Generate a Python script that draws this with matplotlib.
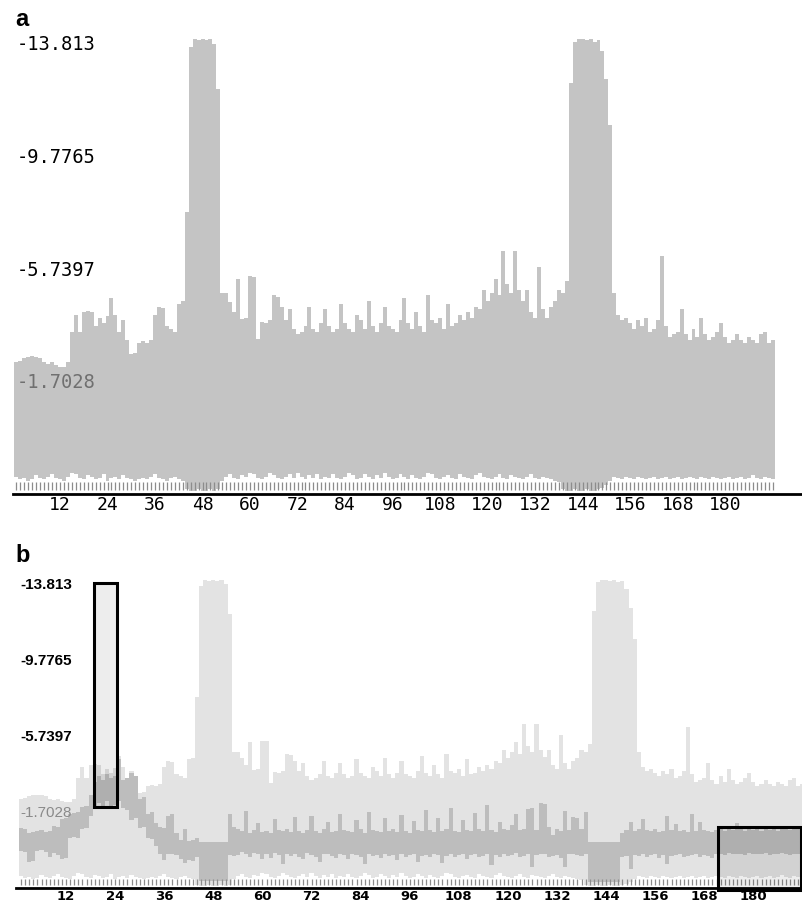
import numpy as np
import matplotlib.pyplot as plt
from matplotlib.patches import Rectangle

# residue positions along the sequence
positions = np.arange(1, 193)

# profile score (upper edge of each bar), panel a and light series of panel b
profile_top = [
    -2.40, -2.45, -2.55, -2.60, -2.62, -2.60, -2.55, -2.40, -2.35, -2.40,
    -2.30, -2.25, -2.25, -2.40, -3.50, -4.10, -3.50, -4.20, -4.25, -4.20,
    -3.70, -4.00, -3.80, -4.05, -4.70, -4.10, -3.50, -3.90, -3.20, -2.70,
    -2.75, -3.10, -3.15, -3.10, -3.20, -4.10, -4.40, -4.35, -3.70, -3.60,
    -3.50, -4.50, -4.60, -7.80, -13.70, -14.00, -13.95, -14.00, -13.95, -14.00,
    -13.80, -12.20, -4.90, -4.90, -4.55, -4.20, -5.40, -3.95, -4.00, -5.50,
    -5.45, -3.25, -3.85, -3.80, -3.90, -4.80, -4.75, -4.40, -3.90, -4.30,
    -3.60, -3.40, -3.50, -3.70, -4.40, -3.60, -3.50, -3.80, -4.30, -3.70,
    -3.50, -3.60, -4.50, -3.80, -3.60, -3.50, -4.10, -3.90, -3.60, -4.60,
    -3.70, -3.50, -3.80, -4.40, -3.70, -3.60, -3.50, -3.90, -4.70, -3.80,
    -3.60, -4.20, -3.70, -3.50, -4.80, -3.90, -3.80, -4.00, -3.60, -4.50,
    -3.70, -3.80, -4.10, -3.90, -4.20, -4.00, -4.40, -4.30, -5.00, -4.60,
    -4.90, -5.40, -4.80, -6.40, -5.20, -4.90, -6.40, -5.00, -4.60, -5.00,
    -4.20, -4.00, -5.80, -4.30, -4.00, -4.40, -4.60, -5.00, -4.90, -5.30,
    -12.40, -13.90, -14.00, -14.00, -13.95, -14.00, -13.90, -13.95, -13.55, -12.55,
    -10.90, -4.90, -4.10, -3.90, -4.00, -3.80, -3.60, -3.90, -3.70, -4.00,
    -3.50, -3.60, -3.90, -6.20, -3.70, -3.30, -3.40, -3.50, -4.30, -3.40,
    -3.20, -3.60, -3.30, -4.00, -3.40, -3.20, -3.30, -3.50, -3.80, -3.30,
    -3.10, -3.20, -3.40, -3.20, -3.10, -3.30, -3.20, -3.10, -3.40, -3.50,
    -3.10, -3.20,
]

# lower edge of each bar
profile_bottom = [
    1.70, 1.80, 1.75, 1.85, 1.80, 1.65, 1.75, 1.80, 1.70, 1.60,
    1.75, 1.80, 1.85, 1.70, 1.55, 1.60, 1.75, 1.80, 1.65, 1.70,
    1.80, 1.75, 1.60, 1.85, 1.75, 1.70, 1.80, 1.65, 1.75, 1.80,
    1.85, 1.80, 1.75, 1.80, 1.70, 1.60, 1.75, 1.80, 1.85, 1.75,
    1.70, 1.80, 1.85, 2.15, 2.20, 2.20, 2.15, 2.20, 2.20, 2.15,
    2.20, 2.15, 1.85, 1.70, 1.60, 1.75, 1.80, 1.65, 1.70, 1.55,
    1.60, 1.75, 1.80, 1.70, 1.55, 1.65, 1.75, 1.80, 1.70, 1.60,
    1.75, 1.55, 1.70, 1.80, 1.65, 1.75, 1.60, 1.80, 1.70, 1.75,
    1.60, 1.75, 1.80, 1.70, 1.55, 1.65, 1.80, 1.75, 1.60, 1.70,
    1.80, 1.65, 1.75, 1.55, 1.70, 1.80, 1.75, 1.60, 1.70, 1.80,
    1.65, 1.75, 1.80, 1.70, 1.55, 1.60, 1.75, 1.80, 1.70, 1.65,
    1.75, 1.80, 1.60, 1.70, 1.75, 1.80, 1.65, 1.55, 1.70, 1.75,
    1.80, 1.70, 1.60, 1.75, 1.80, 1.65, 1.70, 1.75, 1.80, 1.70,
    1.60, 1.75, 1.80, 1.70, 1.75, 1.80, 1.85, 1.90, 2.15, 2.20,
    2.20, 2.15, 2.20, 2.20, 2.15, 2.20, 2.20, 2.15, 2.10, 2.00,
    1.85, 1.70, 1.75, 1.80, 1.70, 1.75, 1.80, 1.70, 1.75, 1.80,
    1.75, 1.70, 1.80, 1.75, 1.70, 1.80, 1.75, 1.70, 1.80, 1.75,
    1.70, 1.75, 1.80, 1.70, 1.75, 1.80, 1.70, 1.75, 1.80, 1.75,
    1.70, 1.80, 1.75, 1.70, 1.80, 1.75, 1.65, 1.75, 1.80, 1.70,
    1.75, 1.80,
]

# second (darker) profile in panel b
window_top = [
    -0.85, -0.80, -0.60, -0.65, -0.70, -0.75, -0.65, -0.70, -0.95, -0.90,
    -1.35, -1.40, -1.60, -1.65, -1.70, -1.95, -2.00, -2.60, -3.30, -3.60,
    -3.40, -3.70, -3.50, -3.60, -4.50, -3.40, -3.50, -3.80, -3.60, -2.40,
    -2.50, -1.60, -1.70, -1.10, -0.90, -0.85, -1.50, -1.60, -0.60, -0.20,
    -0.80, -0.15, -0.20, -0.30, -0.10, -0.10, -0.10, -0.10, -0.10, -0.10,
    -0.10, -1.60, -0.90, -0.80, -0.70, -1.75, -0.60, -0.75, -1.10, -0.65,
    -0.70, -0.60, -1.35, -0.75, -0.70, -0.80, -0.65, -1.45, -0.70, -0.60,
    -0.75, -1.50, -0.70, -0.60, -0.80, -1.20, -0.65, -0.70, -1.60, -0.75,
    -0.70, -0.65, -1.30, -0.80, -0.60, -1.70, -0.75, -0.70, -0.65, -1.40,
    -0.70, -0.80, -0.65, -1.55, -0.70, -0.60, -1.25, -0.75, -0.70, -1.80,
    -0.75, -0.65, -1.40, -0.70, -0.80, -1.90, -0.70, -0.65, -1.30, -0.75,
    -0.70, -1.65, -0.80, -0.70, -2.10, -0.75, -0.65, -1.20, -0.80, -0.75,
    -1.00, -1.60, -0.75, -0.80, -1.85, -1.90, -0.75, -2.20, -2.15, -0.90,
    -0.50, -0.80, -0.70, -1.75, -0.75, -1.45, -1.40, -0.80, -1.70, -0.10,
    -0.10, -0.10, -0.10, -0.10, -0.10, -0.10, -0.10, -0.60, -0.75, -1.15,
    -0.70, -0.80, -1.35, -0.75, -0.70, -0.80, -0.65, -0.70, -1.50, -0.75,
    -1.05, -0.70, -0.75, -0.65, -1.60, -0.70, -1.20, -0.75, -0.70, -0.65,
    -0.75, -0.80, -0.70, -0.85, -0.75, -1.10, -0.80, -0.70, -0.85, -0.75,
    -0.80, -0.70, -0.90, -0.75, -0.80, -0.70, -0.85, -0.80, -0.75, -0.85,
    -0.80, -0.75,
]

window_bottom = [
    0.35, 0.40, 0.95, 0.90, 0.35, 0.30, 0.40, 0.70, 0.45, 0.60,
    0.80, 0.75, -0.35, -0.40, -0.30, -0.80, -0.85, -1.50, -1.90, -2.20,
    -2.00, -2.30, -1.90, -2.10, -2.30, -1.90, -1.80, -1.30, -1.40, -0.85,
    -0.90, -0.30, -0.25, 0.10, 0.50, 0.85, 0.50, 0.55, 0.60, 0.80,
    1.00, 0.85, 0.90, 0.70, 1.95, 1.95, 1.95, 1.95, 1.95, 1.95,
    1.95, 0.60, 0.65, 0.60, 0.40, 0.50, 0.70, 0.45, 0.55, 0.80,
    0.55, 0.75, 0.45, 0.60, 1.05, 0.50, 0.65, 0.55, 0.70, 0.80,
    0.45, 0.60, 0.70, 0.95, 0.55, 0.50, 0.65, 0.75, 0.55, 0.60,
    0.80, 0.55, 0.60, 0.70, 1.05, 0.50, 0.65, 0.60, 0.75, 0.55,
    0.65, 0.60, 0.85, 0.50, 0.70, 0.60, 0.55, 0.95, 0.65, 0.60,
    0.70, 0.55, 0.60, 1.00, 0.65, 0.50, 0.70, 0.60, 0.55, 0.80,
    0.60, 0.55, 0.70, 0.65, 0.50, 1.10, 0.60, 0.70, 0.55, 0.65,
    0.60, 0.45, 0.70, 0.65, 0.55, 1.20, 0.60, 0.50, 0.55, 0.70,
    0.65, 0.60, 0.75, 1.20, 0.55, 0.50, 0.60, 0.65, 0.55, 2.00,
    2.00, 2.00, 2.00, 2.00, 2.00, 2.00, 2.00, 0.70, 0.65, 1.30,
    0.60, 0.65, 0.55, 0.70, 0.60, 0.55, 0.75, 0.60, 1.05, 0.65,
    0.60, 0.55, 0.70, 0.65, 0.60, 0.55, 0.70, 0.60, 0.65, 0.75,
    0.50, 0.55, 0.60, 0.45, 0.50, 0.55, 0.50, 0.60, 0.45, 0.50,
    0.55, 0.50, 0.45, 0.60, 0.50, 0.55, 0.45, 0.50, 0.60, 0.55,
    0.50, 0.55,
]

y_ticks = [-13.813, -9.7765, -5.7397, -1.7028]
y_tick_labels = ["-13.813", "-9.7765", "-5.7397", "-1.7028"]
x_ticks = list(range(12, 181, 12))

# highlighted windows in panel b: (start, end, upper score, lower score)
highlights = [(18.8, 24.4, -13.87, -1.97), (171.4, 191.7, -0.91, 2.45)]

top = np.array(profile_top)
bottom = np.array(profile_bottom)
wtop = np.array(window_top)
wbottom = np.array(window_bottom)

fig = plt.figure(figsize=(8.02, 9.03), dpi=100)
W, H = 802, 903

ax_a = fig.add_axes([13 / W, 1 - 495 / H, 789 / W, 465 / H])
ax_b = fig.add_axes([16 / W, 1 - 889 / H, 786 / W, 319 / H])

# panel a
ax_a.bar(positions, top - bottom, bottom=bottom, width=1.0,
         color="#c4c4c4", linewidth=0)
ax_a.set_xlim(0.13, 199.4)
ax_a.set_ylim(2.32, -14.35)

# panel b
ax_b.bar(positions, top - bottom, bottom=bottom, width=1.0,
         color="#e3e3e3", linewidth=0)
ax_b.bar(positions, wtop - wbottom, bottom=wbottom, width=1.0,
         color="#bdbdbd", linewidth=0)
for x0, x1, y0, y1 in highlights:
    ax_b.add_patch(Rectangle((x0, y0), x1 - x0, y1 - y0,
                             facecolor=(0, 0, 0, 0.07), edgecolor="black",
                             linewidth=2.2, clip_on=False, zorder=5))
ax_b.set_xlim(-0.24, 191.9)
ax_b.set_ylim(2.33, -14.61)

mono = ["DejaVu Sans Mono"]
narrow = ["Liberation Sans Narrow", "Liberation Sans"]

for ax, tick_lo, tick_hi in [(ax_a, 4 / 465, 12 / 465), (ax_b, 3 / 319, 9 / 319)]:
    for s in ["top", "left", "right"]:
        ax.spines[s].set_visible(False)
    ax.spines["bottom"].set_linewidth(2)
    ax.set_yticks([])
    ax.set_xticks(x_ticks)
    ax.tick_params(axis="x", length=0)
    # small per-residue tick marks above the axis line
    ax.vlines(positions, tick_lo, tick_hi, transform=ax.get_xaxis_transform(),
              color="#8c8c8c", linewidth=0.9)

ax_a.set_xticklabels([str(t) for t in x_ticks], family=mono, fontsize=13)
ax_a.tick_params(axis="x", pad=1)
ax_b.set_xticklabels([str(t) for t in x_ticks], family=["DejaVu Sans"],
                     fontsize=9.5, fontweight="bold")
ax_b.tick_params(axis="x", pad=1)

for val, lab in zip(y_ticks, y_tick_labels):
    col = "#707070" if lab == "-1.7028" else "black"
    ax_a.text(0.005, val, lab, transform=ax_a.get_yaxis_transform(),
              ha="left", va="center", family=mono, fontsize=13.5, color=col)
    col = "#8a8a8a" if lab == "-1.7028" else "black"
    ax_b.text(0.005, val, lab, transform=ax_b.get_yaxis_transform(),
              ha="left", va="center", family=narrow, fontsize=11,
              fontweight="bold" if lab != "-1.7028" else "normal", color=col)

fig.text(15 / W, 1 - 19 / H, "a", fontsize=17, fontweight="bold",
         family=["Liberation Sans"], va="center", ha="left")
fig.text(15 / W, 1 - 555 / H, "b", fontsize=17, fontweight="bold",
         family=["Liberation Sans"], va="center", ha="left")

fig.savefig("out.png", dpi=100)
